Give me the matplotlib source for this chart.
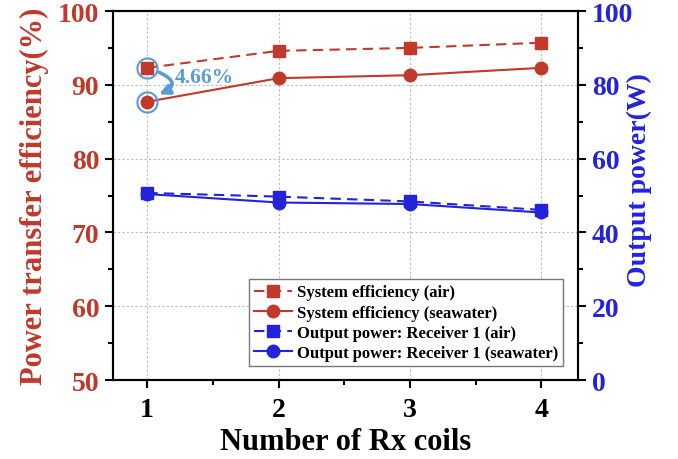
import matplotlib
matplotlib.use('Agg')
import matplotlib.pyplot as plt
from matplotlib.ticker import MultipleLocator

# данные
coils = [1, 2, 3, 4]
eff_air = [92.3, 94.6, 95.0, 95.7]
eff_sea = [87.7, 90.9, 91.3, 92.3]
pow_air = [50.7, 49.7, 48.4, 46.1]
pow_sea = [50.4, 48.1, 47.7, 45.4]
gap_text = '4.66%'

red = '#C0392B'
blue = '#2323DC'
light_blue = '#5B9BD5'

plt.rcParams['font.family'] = ['Liberation Serif', 'DejaVu Serif']
plt.rcParams['font.weight'] = 'bold'

fig = plt.figure(figsize=(6.78, 4.6), dpi=100)
ax = fig.add_axes([0.1667, 0.1717, 0.6858, 0.8022])
ax2 = ax.twinx()

l1, = ax.plot(coils, eff_air, color=red, marker='s', ms=8.5, lw=1.5,
              linestyle=(0, (5, 3)), label='System efficiency (air)')
l2, = ax.plot(coils, eff_sea, color=red, marker='o', ms=9, lw=1.5,
              label='System efficiency (seawater)')
l3, = ax2.plot(coils, pow_air, color=blue, marker='s', ms=8.5, lw=1.5,
               linestyle=(0, (5, 3)), label='Output power: Receiver 1 (air)')
l4, = ax2.plot(coils, pow_sea, color=blue, marker='o', ms=9, lw=1.5,
               label='Output power: Receiver 1 (seawater)')

# кружки и стрелка у первой точки
ax.plot(coils[0], eff_air[0], 'o', mfc='none', mec=light_blue, mew=1.5, ms=14.5)
ax.plot(coils[0], eff_sea[0], 'o', mfc='none', mec=light_blue, mew=1.5, ms=14.5)
ax.annotate('', xy=(coils[0] + 0.09, eff_sea[0] + 1.0),
            xytext=(coils[0] + 0.09, eff_air[0] - 0.6),
            arrowprops=dict(arrowstyle='-|>', color=light_blue, lw=2.6,
                            mutation_scale=15, shrinkA=0, shrinkB=0,
                            connectionstyle='arc3,rad=-1.1'))
ax.text(coils[0] + 0.213, 91.0, gap_text,
        color=light_blue, fontsize=15.5, fontweight='bold', va='center', ha='left')

ax.set_xlim(0.74, 4.28)
ax.set_ylim(50, 100)
ax2.set_ylim(0, 100)

ax.xaxis.set_major_locator(MultipleLocator(1))
ax.xaxis.set_minor_locator(MultipleLocator(0.5))
ax.yaxis.set_major_locator(MultipleLocator(10))
ax.yaxis.set_minor_locator(MultipleLocator(5))
ax2.yaxis.set_major_locator(MultipleLocator(20))
ax2.yaxis.set_minor_locator(MultipleLocator(10))

ax.grid(True, color='#bbbbbb', linestyle=(0, (2, 2)), lw=0.8)
ax.set_axisbelow(True)

for a in (ax, ax2):
    for s in a.spines.values():
        s.set_linewidth(1.5)
    a.tick_params(which='major', direction='out', length=6, width=1.5)
    a.tick_params(which='minor', direction='out', length=3.5, width=1.5)

ax.tick_params(axis='x', labelsize=20, pad=6)
ax.tick_params(axis='y', labelsize=20, labelcolor=red, pad=4)
ax2.tick_params(axis='y', labelsize=20, labelcolor=blue, pad=4)

ax.set_xlabel('Number of Rx coils', fontsize=22, fontweight='bold', labelpad=4)
ax.set_ylabel('Power transfer efficiency(%)', fontsize=22, fontweight='bold',
              color=red, labelpad=6)
# подпись правой оси чуть выше центра, как в оригинале
fig.text(0.9425, 0.609, 'Output power(W)', rotation=90, ha='center', va='center',
         fontsize=20, fontweight='bold', color=blue)

leg = ax2.legend(handles=[l1, l2, l3, l4], loc='lower right',
                 bbox_to_anchor=(0.968, 0.038), borderaxespad=0,
                 prop={'size': 12, 'weight': 'bold'}, fancybox=False,
                 edgecolor='#777777', framealpha=1, labelspacing=0.25,
                 handlelength=2.3, handletextpad=0.3, borderpad=0.3)
leg.get_frame().set_linewidth(1.0)

plt.savefig('out.png', dpi=100)
